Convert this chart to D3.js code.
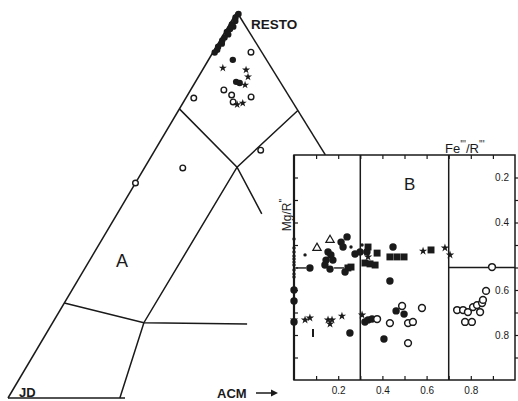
<!DOCTYPE html>
<html><head><meta charset="utf-8">
<script src="https://cdn.jsdelivr.net/npm/d3@7"></script>
<style>
html,body{margin:0;padding:0;background:#fff;}
svg{display:block;}
text{font-family:"Liberation Sans",Arial,sans-serif;fill:#1a1a1a;}
.narrow{font-family:"Liberation Sans Narrow","Arial Narrow","Liberation Sans",sans-serif;}
</style>
</head><body>
<svg id="c" width="518" height="401"></svg>
<script>
// ---------- DATA ----------
// Ternary points: [ACM fraction, RESTO fraction]
const triFilled = [[0.006,0.995],[0.004,0.986],[0.008,0.977],[0.005,0.968],[0.011,0.962],[0.007,0.956],[0.004,0.948],[0.010,0.942],[0.006,0.934],[0.005,0.926],[0.008,0.918],[0.004,0.910],[0.006,0.902],[0.004,0.895],[0.052,0.876],[0.087,0.819],[0.096,0.816]];
const triOpen = [[0.081,0.896],[0.071,0.798],[0.094,0.785],[0.106,0.767],[0.138,0.780],[0.017,0.777],[0.226,0.642],[0.082,0.596],[0.000,0.557]];
const triStars = [[0.041,0.855],[0.093,0.850],[0.106,0.832],[0.110,0.811],[0.128,0.764],[0.118,0.760]];
// Field boundaries in ternary coords [ACM, RESTO]
const triEdges = [
  [[0,1],[0,0]],
  [[0,0],[0.25,0]],
  [[0,1],[0.37,0.63]],
  [[0,0.749],[0.197,0.598],[0.309,0.477]],
  [[0.239,0],[0.195,0.195],[0.197,0.598],[0.255,0.745]],
  [[0,0.246],[0.195,0.195],[0.417,0.192]]
];
// Inset points: [x value, Mg/R'' value]
const inFilled = [[0.240,0.364],[0.213,0.387],[0.222,0.409],[0.154,0.431],[0.167,0.444],[0.145,0.467],[0.176,0.467],[0.140,0.489],[0.163,0.507],[0.072,0.502],[0.231,0.520],[0.000,0.600],[0.000,0.649],[0.000,0.742],[0.276,0.440],[0.299,0.431],[0.330,0.431],[0.448,0.409],[0.434,0.560],[0.253,0.791],[0.321,0.742],[0.335,0.733],[0.353,0.729],[0.407,0.818],[0.462,0.693],[0.498,0.707]];
const inSquares = [[0.244,0.502],[0.258,0.498],[0.335,0.409],[0.376,0.436],[0.321,0.480],[0.344,0.484],[0.367,0.489],[0.434,0.453],[0.466,0.453],[0.498,0.453],[0.620,0.422]];
const inStars = [[0.335,0.453],[0.584,0.427],[0.683,0.413],[0.706,0.444],[0.050,0.733],[0.072,0.724],[0.154,0.733],[0.172,0.733],[0.163,0.751],[0.217,0.716],[0.308,0.711],[0.000,0.733]];
const inOpen = [[0.376,0.729],[0.434,0.747],[0.489,0.671],[0.516,0.747],[0.538,0.742],[0.516,0.836],[0.579,0.680],[0.896,0.498],[0.738,0.689],[0.765,0.689],[0.787,0.698],[0.774,0.742],[0.805,0.742],[0.810,0.676],[0.828,0.667],[0.842,0.698],[0.851,0.658],[0.855,0.644],[0.869,0.604]];
const inTriangles = [[0.163,0.378],[0.104,0.413]];
const inDots = [[0,0.373],[0,0.413],[0,0.431],[0,0.449],[0,0.462],[0,0.476],[0,0.489],[0,0.511],[0,0.529],[0,0.542],[0.050,0.444],[0.258,0.409],[0.308,0.400]];
const inBars = [[0.086,0.791]];
const inDashes = [[0.032,0.502],[0.204,0.502]];
const inDividers = [0.3, 0.7];
const rightLine = {x0:0.7, x1:1.0, y:0.5, gapAt:0.896};
const tickVals = [0.1,0.2,0.3,0.4,0.5,0.6,0.7,0.8,0.9];
const bottomLabels = {0.2:"0.2",0.4:"0.4",0.6:"0.6",0.8:"0.8"};
const rightLabels = {0.1:"0.2",0.3:"0.4",0.6:"0.6",0.8:"0.8"};

// ---------- SCALES ----------
const svg = d3.select("#c");
const ink = "#1a1a1a";
const tx = d3.scaleLinear().domain([0,1]).range([8,476]);
const ty = d3.scaleLinear().domain([0,1]).range([398,12]);
const SKEW = 0.489;
const proj = (a,r) => [tx(a + SKEW*r), ty(r)];

const xIn = d3.scaleLinear().domain([0,1]).range([294,515]);
const yIn = d3.scaleLinear().domain([0,1]).range([155,380]);

svg.append("rect").attr("width",518).attr("height",401).attr("fill","#fff");

// ---------- TERNARY ----------
const line = d3.line().x(d=>proj(d[0],d[1])[0]).y(d=>proj(d[0],d[1])[1]);
svg.append("g").selectAll("path").data(triEdges).join("path")
  .attr("d", line).attr("fill","none").attr("stroke",ink).attr("stroke-width",1.5);

const tg = svg.append("g");
tg.selectAll("circle.f").data(triFilled).join("circle").attr("class","f")
  .attr("cx",d=>proj(d[0],d[1])[0]).attr("cy",d=>proj(d[0],d[1])[1]).attr("r",3.2).attr("fill",ink);
tg.selectAll("circle.o").data(triOpen).join("circle").attr("class","o")
  .attr("cx",d=>proj(d[0],d[1])[0]).attr("cy",d=>proj(d[0],d[1])[1]).attr("r",2.8)
  .attr("fill","#fff").attr("stroke",ink).attr("stroke-width",1.4);
tg.selectAll("path.s").data(triStars).join("path").attr("class","s")
  .attr("transform",d=>`translate(${proj(d[0],d[1])})`)
  .attr("d",d3.symbol(d3.symbolStar,20)()).attr("fill",ink);

svg.append("text").attr("x",251).attr("y",29).attr("font-size",13.5).attr("font-weight","bold").text("RESTO");
svg.append("text").attr("x",19).attr("y",397).attr("font-size",13).attr("font-weight","bold").text("JD");
svg.append("text").attr("x",217).attr("y",398).attr("font-size",13).attr("font-weight","bold").text("ACM");
svg.append("line").attr("x1",256).attr("x2",272).attr("y1",393).attr("y2",393).attr("stroke",ink).attr("stroke-width",1.5);
svg.append("path").attr("d","M271,389.5 L278,393 L271,396.5 Z").attr("fill",ink);
svg.append("text").attr("class","narrow").attr("x",116).attr("y",267).attr("font-size",18).text("A");

// ---------- INSET ----------
const ig = svg.append("g");
ig.append("rect").attr("x",xIn(0)).attr("y",yIn(0)).attr("width",xIn(1)-xIn(0)).attr("height",yIn(1)-yIn(0))
  .attr("fill","#fff").attr("stroke",ink).attr("stroke-width",1.5);
ig.append("line").attr("x1",xIn(0)).attr("x2",xIn(0)).attr("y1",yIn(0)).attr("y2",yIn(1)).attr("stroke",ink).attr("stroke-width",2.2);
ig.selectAll("line.div").data(inDividers).join("line").attr("class","div")
  .attr("x1",d=>xIn(d)).attr("x2",d=>xIn(d)).attr("y1",yIn(0)).attr("y2",yIn(1)).attr("stroke",ink).attr("stroke-width",1.5);
ig.append("line").attr("x1",xIn(rightLine.x0)).attr("x2",xIn(rightLine.gapAt)-4).attr("y1",yIn(rightLine.y)).attr("y2",yIn(rightLine.y)).attr("stroke",ink).attr("stroke-width",1.5);
ig.append("line").attr("x1",xIn(rightLine.gapAt)+4).attr("x2",xIn(rightLine.x1)).attr("y1",yIn(rightLine.y)).attr("y2",yIn(rightLine.y)).attr("stroke",ink).attr("stroke-width",1.5);

function styleAxis(g){
  g.select(".domain").remove();
  g.selectAll(".tick line").attr("stroke",ink).attr("stroke-width",1.2);
  g.selectAll(".tick text").attr("font-family","Liberation Sans, Arial, sans-serif").attr("font-size",10).attr("fill","#444");
}
ig.append("g").attr("transform",`translate(0,${yIn(1)})`)
  .call(d3.axisBottom(xIn).tickValues(tickVals).tickSize(-4).tickPadding(7).tickFormat(d=>bottomLabels[d]||""))
  .call(styleAxis);
ig.append("g").attr("transform",`translate(0,${yIn(0)})`)
  .call(d3.axisBottom(xIn).tickValues(tickVals).tickSize(4).tickFormat(""))
  .call(styleAxis);
ig.append("g").attr("transform",`translate(${xIn(0)},0)`)
  .call(d3.axisRight(yIn).tickValues(tickVals).tickSize(4).tickFormat(""))
  .call(styleAxis);
ig.append("g").attr("transform",`translate(${xIn(1)},0)`)
  .call(d3.axisLeft(yIn).tickValues(tickVals).tickSize(-3).tickPadding(6).tickFormat(d=>rightLabels[d]||""))
  .call(styleAxis);

const P = d => `translate(${xIn(d[0])},${yIn(d[1])})`;
ig.selectAll("circle.df").data(inDots).join("circle").attr("class","df")
  .attr("cx",d=>xIn(d[0])).attr("cy",d=>yIn(d[1])).attr("r",1.7).attr("fill",ink);
ig.selectAll("circle.ff").data(inFilled).join("circle").attr("class","ff")
  .attr("cx",d=>xIn(d[0])).attr("cy",d=>yIn(d[1])).attr("r",3.7).attr("fill",ink);
ig.selectAll("path.sq").data(inSquares).join("path").attr("class","sq")
  .attr("transform",P).attr("d",d3.symbol(d3.symbolSquare,48)()).attr("fill",ink);
ig.selectAll("path.st").data(inStars).join("path").attr("class","st")
  .attr("transform",P).attr("d",d3.symbol(d3.symbolStar,22)()).attr("fill",ink);
ig.selectAll("circle.oo").data(inOpen).join("circle").attr("class","oo")
  .attr("cx",d=>xIn(d[0])).attr("cy",d=>yIn(d[1])).attr("r",3.4)
  .attr("fill","#fff").attr("stroke",ink).attr("stroke-width",1.5);
ig.selectAll("path.tr").data(inTriangles).join("path").attr("class","tr")
  .attr("transform",P).attr("d",d3.symbol(d3.symbolTriangle,30)())
  .attr("fill","#fff").attr("stroke",ink).attr("stroke-width",1.2);
ig.selectAll("line.bar").data(inBars).join("line").attr("class","bar")
  .attr("x1",d=>xIn(d[0])).attr("x2",d=>xIn(d[0])).attr("y1",d=>yIn(d[1])-4).attr("y2",d=>yIn(d[1])+4)
  .attr("stroke",ink).attr("stroke-width",2);
ig.selectAll("line.dash").data(inDashes).join("line").attr("class","dash")
  .attr("x1",d=>xIn(d[0])-5).attr("x2",d=>xIn(d[0])+5).attr("y1",d=>yIn(d[1])).attr("y2",d=>yIn(d[1]))
  .attr("stroke",ink).attr("stroke-width",1.4);

svg.append("text").attr("class","narrow").attr("x",404).attr("y",190).attr("font-size",17).text("B");
svg.append("text").attr("transform","translate(291,215) rotate(-90)").attr("text-anchor","middle").attr("font-size",12)
  .text("Mg/R").append("tspan").attr("dy",-4).attr("font-size",10).text("''");
const fe = svg.append("text").attr("x",445).attr("y",153).attr("font-size",13);
fe.append("tspan").text("Fe");
fe.append("tspan").attr("dy",-5).attr("font-size",10).text("'''");
fe.append("tspan").attr("dy",5).text("/R");
fe.append("tspan").attr("dy",-5).attr("font-size",10).text("'''");
</script>
</body></html>
